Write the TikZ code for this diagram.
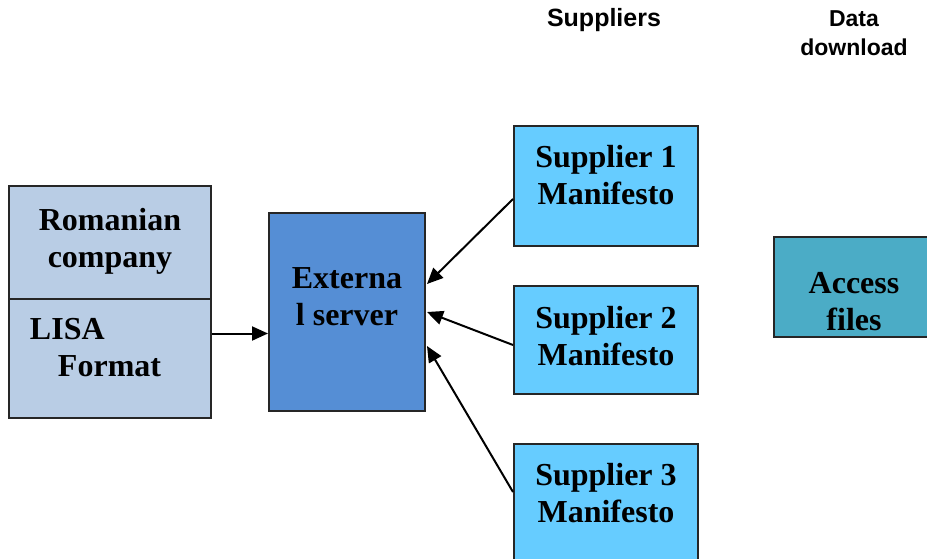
\documentclass[tikz,border=0pt]{standalone}
\usepackage{fontspec}
\setmainfont{Liberation Serif}
\newfontfamily\headfont{Liberation Sans}
\usetikzlibrary{arrows.meta,positioning}

\definecolor{companyblue}{HTML}{B9CDE5}
\definecolor{serverblue}{HTML}{558ED5}
\definecolor{supplierblue}{HTML}{66CCFF}
\definecolor{accessteal}{HTML}{4BACC6}

\begin{document}
\begin{tikzpicture}[x=1pt,y=-1pt,
    box/.style={draw=black!85,line width=2pt,inner sep=0pt,
        font=\fontsize{32}{37}\selectfont\bfseries,align=center},
    company/.style={box,fill=companyblue,minimum width=202pt},
    server/.style={box,fill=serverblue,minimum width=156pt,minimum height=198pt},
    supplier/.style={box,fill=supplierblue,minimum width=184pt},
    access/.style={box,fill=accessteal,minimum width=160pt,minimum height=100pt},
    header/.style={font=\headfont\bfseries,align=center},
    link/.style={line width=2pt,-{Triangle[length=16pt,width=14pt]}}
]
    \clip (0,0) rectangle (927,559);

    \node[header,font=\headfont\fontsize{25}{29}\selectfont\bfseries] (suppliers) at (604,20) {Suppliers};
    \node[header,font=\headfont\fontsize{23}{29}\selectfont\bfseries] (download) at (854,33) {Data\\download};

    \node[company,minimum height=113pt] (romanian) at (110,242.5) {Romanian\\company\\[-27pt]\mbox{}};
    \node[company,minimum height=119pt,align=left,text width=160pt] (lisa) at (110,358.5)
        {LISA\\\hspace*{28pt}Format\\[-14pt]\mbox{}};

    \node[server] (server) at (347,312) {Externa\\l server\\[-6pt]\mbox{}};

    \node[supplier,minimum height=120pt] (s1) at (606,186) {Supplier 1\\Manifesto\\[-15pt]\mbox{}};
    \node[supplier,minimum height=108pt] (s2) at (606,340) {Supplier 2\\Manifesto\\[-29pt]\mbox{}};
    \node[supplier,minimum height=130pt] (s3) at (606,509) {Supplier 3\\Manifesto\\[-4pt]\mbox{}};

    \node[access] (access) at (854,287) {\rule{0pt}{50pt}Access\\files};

    \draw[link] ([yshift=25pt]lisa.east) -- ([yshift=25pt]lisa.east -| server.west);
    \draw[link] ([yshift=-13pt]s1.west) -- ([yshift=28pt,xshift=1pt]server.east);
    \draw[link] ([yshift=-5pt]s2.west) -- ([xshift=1pt]server.east);
    \draw[link] ([yshift=17pt]s3.west) -- ([yshift=-34pt,xshift=1pt]server.east);
\end{tikzpicture}
\end{document}
